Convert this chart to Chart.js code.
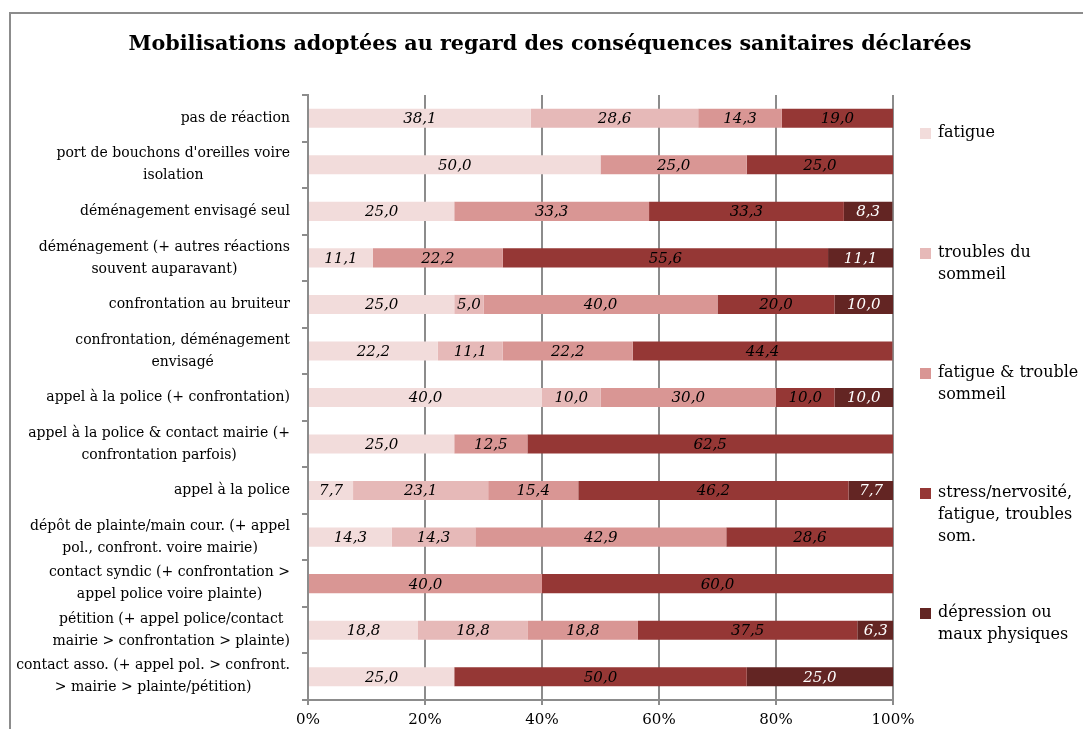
<!DOCTYPE html>
<html lang="fr">
<head>
<meta charset="utf-8">
<title>Mobilisations adoptées au regard des conséquences sanitaires déclarées</title>
<script src="https://cdn.jsdelivr.net/npm/chart.js"></script>
<style>
  html, body { margin: 0; padding: 0; background: #fff; overflow: hidden; }
  #wrap { position: absolute; left: 0; top: 0; width: 1083px; height: 729px; }
</style>
</head>
<body>
<div id="wrap"><canvas id="mobChart"></canvas></div>
<script>
    const chartTitle = 'Mobilisations adoptées au regard des conséquences sanitaires déclarées';

    // libellés des mobilisations (une entrée par ligne affichée)
    const categories = [
        ['pas de réaction'],
        ["port de bouchons d'oreilles voire", 'isolation'],
        ['déménagement envisagé seul'],
        ['déménagement (+ autres réactions', 'souvent auparavant)'],
        ['confrontation au bruiteur'],
        ['confrontation, déménagement', 'envisagé'],
        ['appel à la police (+ confrontation)'],
        ['appel à la police & contact mairie (+', 'confrontation parfois)'],
        ['appel à la police'],
        ['dépôt de plainte/main cour. (+ appel', 'pol., confront. voire mairie)'],
        ['contact syndic (+ confrontation >', 'appel police voire plainte)'],
        ['pétition (+ appel police/contact', 'mairie > confrontation > plainte)'],
        ['contact asso. (+ appel pol. > confront.', '> mairie > plainte/pétition)']
    ];

    const seriesNames = [
        'fatigue',
        'troubles du\nsommeil',
        'fatigue & trouble\nsommeil',
        'stress/nervosité,\nfatigue, troubles\nsom.',
        'dépression ou\nmaux physiques'
    ];
    const seriesColors = ['#f2dcdb', '#e6b9b8', '#d99694', '#953735', '#632523'];

    // pourcentages par conséquence sanitaire
    const fatigue         = [38.1, 50.0, 25.0, 11.1, 25.0, 22.2, 40.0, 25.0,  7.7, 14.3,  0.0, 18.8, 25.0];
    const troublesSommeil = [28.6,  0.0,  0.0,  0.0,  5.0, 11.1, 10.0,  0.0, 23.1, 14.3,  0.0, 18.8,  0.0];
    const fatigueTrouble  = [14.3, 25.0, 33.3, 22.2, 40.0, 22.2, 30.0, 12.5, 15.4, 42.9, 40.0, 18.8,  0.0];
    const stress          = [19.0, 25.0, 33.3, 55.6, 20.0, 44.4, 10.0, 62.5, 46.2, 28.6, 60.0, 37.5, 50.0];
    const depression      = [ 0.0,  0.0,  8.3, 11.1, 10.0,  0.0, 10.0,  0.0,  7.7,  0.0,  0.0,  6.3, 25.0];

    const xTicks = [0, 20, 40, 60, 80, 100];

    const FONT = '"DejaVu Serif", "Liberation Serif", serif';
    const GRID = '#8c8c8c';

    const allSeries = [fatigue, troublesSommeil, fatigueTrouble, stress, depression];

    // cadre gris du graphique (haut et gauche)
    const framePlugin = {
        id: 'frame',
        beforeDraw(chart) {
            const ctx = chart.ctx;
            ctx.save();
            ctx.strokeStyle = GRID;
            ctx.lineWidth = 2;
            ctx.beginPath();
            ctx.moveTo(10, chart.height);
            ctx.lineTo(10, 13);
            ctx.lineTo(chart.width, 13);
            ctx.stroke();
            ctx.restore();
        }
    };

    // titre, libellés de catégories centrés ligne par ligne, valeurs et légende
    const decorPlugin = {
        id: 'decor',
        afterDraw(chart) {
            const ctx = chart.ctx;
            const area = chart.chartArea;
            const yScale = chart.scales.y;
            ctx.save();

            // titre
            ctx.fillStyle = '#000';
            ctx.font = 'bold 20.7px ' + FONT;
            ctx.textAlign = 'center';
            ctx.textBaseline = 'middle';
            ctx.fillText(chartTitle, 550, 45);

            // libellés de l'axe vertical
            ctx.font = '14px ' + FONT;
            const labelRight = area.left - 18;
            const lineH = 22;
            categories.forEach((lines, i) => {
                const yc = yScale.getPixelForValue(i);
                const widest = Math.max(...lines.map(l => ctx.measureText(l).width));
                const cx = labelRight - widest / 2;
                const y0 = yc - (lines.length - 1) * lineH / 2;
                lines.forEach((l, k) => ctx.fillText(l, cx, y0 + k * lineH));
            });

            // valeurs dans les barres
            ctx.font = 'italic 15px ' + FONT;
            chart.data.datasets.forEach((ds, di) => {
                const meta = chart.getDatasetMeta(di);
                meta.data.forEach((bar, i) => {
                    const v = ds.data[i];
                    if (!v) return;
                    const cx = (bar.x + bar.base) / 2;
                    ctx.fillStyle = di === 4 ? '#fff' : '#000';
                    ctx.fillText(v.toFixed(1).replace('.', ','), cx, bar.y + 1);
                });
            });

            // légende
            ctx.font = '16px ' + FONT;
            ctx.textAlign = 'left';
            chart.data.datasets.forEach((ds, di) => {
                const top = area.top + 38 + di * 120;
                ctx.fillStyle = ds.backgroundColor;
                ctx.fillRect(920, top - 5, 11, 11);
                ctx.fillStyle = '#000';
                ds.label.split('\n').forEach((l, k) => ctx.fillText(l, 938, top + k * 22));
            });

            ctx.restore();
        }
    };

    const datasets = allSeries.map((values, i) => ({
        label: seriesNames[i],
        data: values,
        backgroundColor: seriesColors[i],
        borderWidth: 0,
        barPercentage: 0.41,
        categoryPercentage: 1
    }));

    new Chart(document.getElementById('mobChart'), {
        type: 'bar',
        data: { labels: categories.map(c => c.join(' ')), datasets },
        options: {
            indexAxis: 'y',
            responsive: true,
            maintainAspectRatio: false,
            animation: false,
            layout: { padding: { top: 95, right: 190, bottom: 0, left: 0 } },
            plugins: {
                legend: { display: false },
                title: { display: false },
                tooltip: { enabled: false }
            },
            scales: {
                x: {
                    stacked: true,
                    min: 0,
                    max: 100,
                    afterFit: s => { s.height = 29; },
                    afterBuildTicks: s => { s.ticks = xTicks.map(v => ({ value: v })); },
                    ticks: {
                        color: '#000',
                        padding: 6,
                        font: { family: FONT, size: 15 },
                        callback: v => v + '%'
                    },
                    grid: { color: GRID, lineWidth: 2, tickLength: 5 },
                    border: { color: GRID, width: 2 }
                },
                y: {
                    stacked: true,
                    afterFit: s => { s.width = 308; },
                    ticks: { display: false },
                    grid: { color: GRID, lineWidth: 2, offset: true, drawOnChartArea: false, tickLength: 6 },
                    border: { color: GRID, width: 2 }
                }
            }
        },
        plugins: [framePlugin, decorPlugin]
    });
</script>
</body>
</html>
